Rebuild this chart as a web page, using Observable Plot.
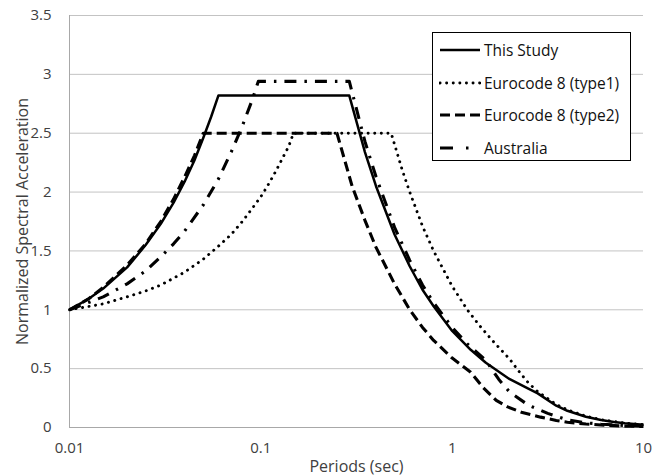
<!DOCTYPE html>
<html>
<head>
<meta charset="utf-8">
<script src="https://cdn.jsdelivr.net/npm/d3@7"></script>
<script src="https://cdn.jsdelivr.net/npm/@observablehq/plot@0.6"></script>
<style>
  html, body { margin: 0; padding: 0; background: #fff; }
  #wrap { position: relative; width: 666px; height: 476px; font-family: "Open Sans", sans-serif; }
  #legend { position: absolute; left: 432px; top: 32px; width: 199px; height: 129px; border: 1px solid #000; background: #fff; box-sizing: border-box; }
  .row { position: absolute; left: 0; height: 22px; display: flex; align-items: center; font-size: 15.5px; color: #111; white-space: nowrap; }
  .row svg { margin-left: 6px; margin-right: 3px; }
</style>
</head>
<body>
<div id="wrap"></div>
<script>
// Periods (sec) and normalized spectral acceleration
const seriesNames = ["This Study", "Eurocode 8 (type1)", "Eurocode 8 (type2)", "Australia"];

const studyT = [0.01, 0.0125, 0.015, 0.02, 0.025, 0.03, 0.035, 0.04, 0.045, 0.05, 0.055, 0.06, 0.29, 0.35, 0.4, 0.5, 0.6, 0.7, 0.8, 1.0, 1.25, 1.5, 2.0, 2.5, 2.8, 3.5, 4, 5, 6, 7, 8, 10];
const studyV = [1.0, 1.09, 1.18, 1.36, 1.55, 1.73, 1.91, 2.09, 2.27, 2.46, 2.64, 2.82, 2.82, 2.34, 2.05, 1.64, 1.37, 1.17, 1.03, 0.82, 0.66, 0.55, 0.41, 0.33, 0.29, 0.185, 0.142, 0.091, 0.063, 0.046, 0.036, 0.023];

const ec1T = [0.01, 0.015, 0.02, 0.025, 0.03, 0.04, 0.05, 0.06, 0.07, 0.08, 0.09, 0.1, 0.11, 0.12, 0.13, 0.14, 0.148, 0.48, 0.55, 0.6, 0.7, 0.8, 1.0, 1.2, 1.4, 1.6, 1.8, 2.0, 2.2, 2.5, 2.8, 3.5, 4, 5, 6, 8, 10];
const ec1V = [1.0, 1.05, 1.11, 1.16, 1.21, 1.32, 1.43, 1.54, 1.64, 1.75, 1.86, 1.96, 2.07, 2.18, 2.29, 2.39, 2.5, 2.5, 2.18, 2.0, 1.71, 1.5, 1.2, 1.0, 0.86, 0.75, 0.66, 0.58, 0.49, 0.38, 0.305, 0.196, 0.15, 0.096, 0.067, 0.037, 0.024];

const ec2T = [0.01, 0.0125, 0.015, 0.02, 0.025, 0.03, 0.035, 0.04, 0.045, 0.05, 0.25, 0.3, 0.35, 0.4, 0.5, 0.6, 0.7, 0.8, 1.0, 1.25, 1.45, 1.7, 1.95, 2.3, 2.9, 3.5, 4, 5, 6, 8, 10];
const ec2V = [1.0, 1.09, 1.19, 1.38, 1.56, 1.75, 1.94, 2.13, 2.31, 2.5, 2.5, 2.05, 1.76, 1.53, 1.22, 1.0, 0.85, 0.74, 0.59, 0.47, 0.34, 0.23, 0.175, 0.13, 0.088, 0.06, 0.045, 0.03, 0.021, 0.012, 0.008];

const ausT = [0.01, 0.015, 0.02, 0.025, 0.03, 0.035, 0.04, 0.05, 0.06, 0.07, 0.08, 0.09, 0.097, 0.29, 0.35, 0.4, 0.5, 0.6, 0.7, 0.8, 1.0, 1.2, 1.5, 1.75, 2.0, 2.5, 3.16, 4, 5, 6, 8, 10];
const ausV = [1.0, 1.11, 1.22, 1.33, 1.45, 1.56, 1.67, 1.89, 2.11, 2.34, 2.56, 2.78, 2.94, 2.94, 2.43, 2.13, 1.7, 1.42, 1.21, 1.06, 0.85, 0.71, 0.57, 0.41, 0.30, 0.19, 0.12, 0.065, 0.04, 0.028, 0.017, 0.011];

const xTicks = [0.01, 0.1, 1, 10];
const xTickLabels = ["0.01", "0.1", "1", "10"];
const yTicks = [0, 0.5, 1, 1.5, 2, 2.5, 3, 3.5];
const yTickLabels = ["0", "0.5", "1", "1.5", "2", "2.5", "3", "3.5"];

const toRows = (T, V) => T.map((t, i) => ({T: t, v: V[i]}));
const study = toRows(studyT, studyV);
const ec1 = toRows(ec1T, ec1V);
const ec2 = toRows(ec2T, ec2V);
const aus = toRows(ausT, ausV);

const styles = [
  {dash: null, width: 2.5, cap: "butt"},
  {dash: "0.1,6.5", width: 2.9, cap: "round"},
  {dash: "10,5", width: 3.1, cap: "butt"},
  {dash: "12,8,2.5,8", width: 3.1, cap: "butt"}
];
const datasets = [study, ec1, ec2, aus];

const chart = Plot.plot({
  width: 666,
  height: 476,
  marginTop: 15,
  marginBottom: 49,
  marginLeft: 69,
  marginRight: 23,
  style: {fontFamily: "Open Sans, sans-serif", fontSize: "15px", color: "#404040", background: "#fff"},
  x: {type: "log", domain: [0.01, 10]},
  y: {domain: [0, 3.5]},
  marks: [
    Plot.ruleY(yTicks.slice(1), {stroke: "#c3c3c3", strokeWidth: 1}),
    Plot.ruleY([0], {stroke: "#a8a8a8", strokeWidth: 1}),
    Plot.ruleX([0.01], {stroke: "#a8a8a8", strokeWidth: 1}),
    Plot.axisX({ticks: xTicks, tickFormat: d => xTickLabels[xTicks.indexOf(d)], tickSize: 0, tickPadding: 15,
      label: "Periods (sec)", labelAnchor: "center", labelArrow: "none", labelOffset: 44, fontSize: 15}),
    Plot.axisY({ticks: yTicks, tickFormat: d => yTickLabels[yTicks.indexOf(d)], tickSize: 0, tickPadding: 18,
      label: "Normalized Spectral Acceleration", labelAnchor: "center", labelArrow: "none", labelOffset: 53, fontSize: 15}),
    ...datasets.map((ds, i) => Plot.line(ds, {
      x: "T", y: "v", stroke: "#000", strokeWidth: styles[i].width,
      strokeDasharray: styles[i].dash, strokeLinecap: styles[i].cap, strokeLinejoin: "round"
    }))
  ]
});

const wrap = document.getElementById("wrap");
wrap.appendChild(chart);
d3.select(chart).selectAll('[aria-label="x-axis label"] text, [aria-label="y-axis label"] text')
  .style("font-size", "16px");

// legend
const legend = document.createElement("div");
legend.id = "legend";
const rowTops = [17, 50, 82, 115];
seriesNames.forEach((name, i) => {
  const row = document.createElement("div");
  row.className = "row";
  row.style.top = (rowTops[i] - 11) + "px";
  const s = styles[i];
  row.innerHTML = `<svg width="42" height="10"><line x1="1" y1="5" x2="41" y2="5" stroke="#000" stroke-width="${s.width}" ${s.dash ? `stroke-dasharray="${i === 3 ? '13,13,2.5,20' : s.dash}"` : ""} stroke-linecap="${s.cap}"/></svg><span>${name}</span>`;
  legend.appendChild(row);
});
wrap.appendChild(legend);
</script>
</body>
</html>
